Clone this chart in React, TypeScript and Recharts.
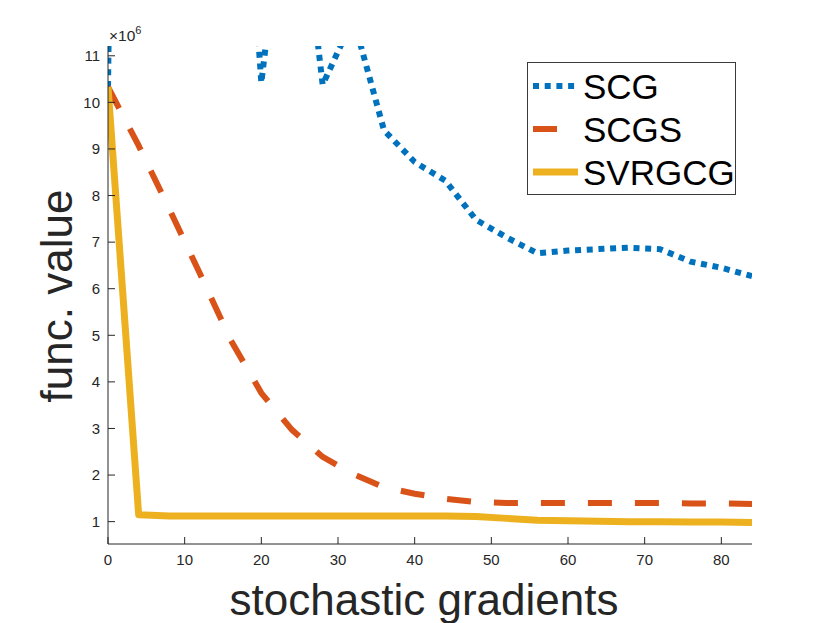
import React from 'react';
import { LineChart, Line, XAxis, YAxis, Label, Legend } from 'recharts';

const FONT = '"Liberation Sans", Arial, Helvetica, sans-serif';
const AXIS_COLOR = '#262626';

const xValues = [0, 4, 8, 12, 16, 20, 24, 28, 32, 36, 40, 44, 48, 52, 56, 60, 64, 68, 72, 76, 80, 84];
const scgValues = [10.33, 60, 55, 50, 20, 10.42, 16, 10.38, 11.8, 9.4, 8.72, 8.32, 7.48, 7.1, 6.76, 6.82, 6.85, 6.88, 6.85, 6.58, 6.45, 6.27];
const scgsValues = [10.33, 9.07, 7.71, 6.32, 4.9, 3.76, 2.97, 2.39, 2.02, 1.74, 1.6, 1.49, 1.42, 1.4, 1.4, 1.4, 1.4, 1.4, 1.4, 1.39, 1.39, 1.38];
const svrgcgValues = [10.33, 1.15, 1.12, 1.12, 1.12, 1.12, 1.12, 1.12, 1.12, 1.12, 1.12, 1.12, 1.11, 1.07, 1.03, 1.02, 1.01, 1.0, 1.0, 0.99, 0.99, 0.98];

const xTicks = [0, 10, 20, 30, 40, 50, 60, 70, 80];
const yTicks = [1, 2, 3, 4, 5, 6, 7, 8, 9, 10, 11];
const xDomain = [0, 84];
const yDomain = [0.52, 11.21];

const seriesNames = ['SCG', 'SCGS', 'SVRGCG'];
const seriesColors = ['#0072BD', '#D95319', '#EDB120'];
const seriesDash = ['6 5.7', '24 23', undefined];
const seriesWidth = [6, 6, 7];

const data = xValues.map((x, i) => ({
  x,
  SCG: scgValues[i],
  SCGS: scgsValues[i],
  SVRGCG: svrgcgValues[i],
}));

const TICK_FONT = 15;
const tickStyle = { fontSize: TICK_FONT, fill: AXIS_COLOR, fontFamily: FONT };

const LegendBox = () => (
  <svg width={209} height={133} style={{ display: 'block' }}>
    <rect x={0.5} y={0.5} width={208} height={132} fill="#ffffff" stroke="#3a3a3a" strokeWidth={1} />
    {seriesNames.map((name, i) => {
      const cy = 24 + i * 43;
      return (
        <g key={name}>
          <line
            x1={6}
            x2={51}
            y1={cy}
            y2={cy}
            stroke={seriesColors[i]}
            strokeWidth={seriesWidth[i]}
            strokeDasharray={seriesDash[i]}
            strokeLinecap="butt"
          />
          <text x={56} y={cy + 12.5} fontSize={35} fontFamily={FONT} fill="#000000">
            {name}
          </text>
        </g>
      );
    })}
  </svg>
);

export default function App() {
  return (
    <div style={{ position: 'absolute', left: 0, top: 0, width: 830, height: 623, background: '#ffffff' }}>
      <LineChart width={830} height={623} data={data} margin={{ top: 46, right: 78, bottom: 0, left: 0 }}>
        <XAxis
          xAxisId="b"
          dataKey="x"
          type="number"
          domain={xDomain}
          ticks={xTicks}
          interval={0}
          allowDataOverflow
          height={79}
          tickSize={-7}
          tickMargin={17}
          tick={tickStyle}
          fontSize={TICK_FONT}
          stroke={AXIS_COLOR}
        >
          <Label
            value="stochastic gradients"
            content={() => (
              <text x={424} y={615} textAnchor="middle" fontSize={44} fontFamily={FONT} fill={AXIS_COLOR}>
                stochastic gradients
              </text>
            )}
          />
        </XAxis>
        <XAxis
          xAxisId="t"
          dataKey="x"
          type="number"
          orientation="top"
          domain={xDomain}
          ticks={xTicks}
          interval={0}
          allowDataOverflow
          height={0}
          tickSize={-7}
          tick={false}
          stroke={AXIS_COLOR}
        />
        <YAxis
          yAxisId="l"
          type="number"
          domain={yDomain}
          ticks={yTicks}
          interval={0}
          allowDataOverflow
          width={108}
          tickSize={-7}
          tickMargin={15}
          tick={tickStyle}
          fontSize={TICK_FONT}
          stroke={AXIS_COLOR}
        >
          <Label
            value="func. value"
            content={() => (
              <g>
                <text
                  x={72}
                  y={296}
                  transform="rotate(-90, 72, 296)"
                  textAnchor="middle"
                  fontSize={44}
                  fontFamily={FONT}
                  fill={AXIS_COLOR}
                >
                  func. value
                </text>
                <text x={109} y={41} fontSize={15.5} fontFamily={FONT} fill={AXIS_COLOR}>
                  ×10
                  <tspan dy={-7} fontSize={11}>
                    6
                  </tspan>
                </text>
              </g>
            )}
          />
        </YAxis>
        <YAxis
          yAxisId="r"
          type="number"
          orientation="right"
          domain={yDomain}
          ticks={yTicks}
          interval={0}
          allowDataOverflow
          width={0}
          tickSize={-7}
          tick={false}
          stroke={AXIS_COLOR}
        />
        {seriesNames.map((name, i) => (
          <Line
            key={name}
            xAxisId="b"
            yAxisId="l"
            type="linear"
            dataKey={name}
            stroke={seriesColors[i]}
            strokeWidth={seriesWidth[i]}
            strokeDasharray={seriesDash[i]}
            strokeLinecap="butt"
            strokeLinejoin={i === 2 ? 'round' : 'miter'}
            dot={false}
            activeDot={false}
            isAnimationActive={false}
          />
        ))}
        <Legend
          layout="vertical"
          align="center"
          verticalAlign="middle"
          content={() => <LegendBox />}
          wrapperStyle={{ left: 527, top: 62, width: 209, height: 133 }}
        />
      </LineChart>
    </div>
  );
}
